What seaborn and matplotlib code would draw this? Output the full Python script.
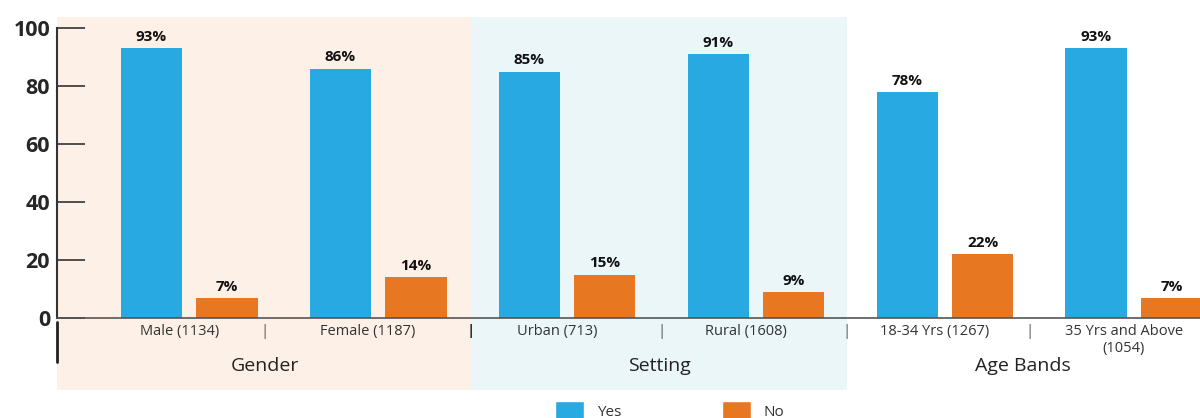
import pandas as pd
import matplotlib
matplotlib.use("Agg")
import matplotlib.pyplot as plt
import matplotlib.transforms as mtransforms
from matplotlib.patches import Rectangle, Patch
import seaborn as sns

categories = ["Male (1134)", "Female (1187)", "Urban (713)", "Rural (1608)",
              "18-34 Yrs (1267)", "35 Yrs and Above\n(1054)"]
yes_vals = [93, 86, 85, 91, 78, 93]
no_vals = [7, 14, 15, 9, 22, 7]
groups = ["Gender", "Setting", "Age Bands"]

colors = ["#29A9E1", "#E87722"]

df = pd.DataFrame({
    "category": categories * 2,
    "value": yes_vals + no_vals,
    "answer": ["Yes"] * len(categories) + ["No"] * len(categories),
})

sns.set_theme(style="white")
plt.rcParams["font.family"] = ["Open Sans", "DejaVu Sans"]

fig = plt.figure(figsize=(12, 4.18), dpi=100)
ax = fig.add_axes([57 / 1200, 1 - 318 / 418, 1 - 57 / 1200, 290 / 418])
ax.set_facecolor("none")

sns.barplot(data=df, x="category", y="value", hue="answer", order=categories,
            hue_order=["Yes", "No"], palette=colors, width=0.8, gap=0.19,
            saturation=1, linewidth=0, ax=ax, legend=False)

for cont in ax.containers:
    ax.bar_label(cont, fmt="%d%%", padding=3, fontsize=11, fontweight="bold",
                 color="#111111")

ax.set_xlim(-0.70, 5.35)
ax.set_ylim(0, 100)
ax.set_yticks([0, 20, 40, 60, 80, 100])
ax.tick_params(axis="y", left=True, direction="in", length=20, width=1.2,
               color="#333333", pad=5, labelsize=15.5)
for t in ax.get_yticklabels():
    t.set_fontweight("bold")
ax.tick_params(axis="x", length=0, pad=4, labelsize=10.5, labelcolor="#333333")
shift = mtransforms.ScaledTranslation(-10 / 100, 0, fig.dpi_scale_trans)
for t in ax.get_xticklabels():
    t.set_transform(t.get_transform() + shift)
ax.set_xlabel("")
ax.set_ylabel("")
for s in ["top", "right"]:
    ax.spines[s].set_visible(False)
ax.spines["left"].set_color("#333333")
ax.spines["left"].set_linewidth(1.5)
ax.spines["bottom"].set_color("#555555")
ax.spines["bottom"].set_linewidth(1.2)

# background bands for the groups
trans = mtransforms.blended_transform_factory(ax.transData, ax.transAxes)
ax.add_patch(Rectangle((-0.70, -0.248), 2.19, 1.286, transform=trans,
                       facecolor="#FDF0E7", edgecolor="none", zorder=-5, clip_on=False))
ax.add_patch(Rectangle((1.49, -0.248), 1.99, 1.286, transform=trans,
                       facecolor="#EAF6F8", edgecolor="none", zorder=-5, clip_on=False))

# separators
for xs in [0.4, 2.5, 3.48, 4.45]:
    ax.text(xs, -0.02, "|", transform=trans, ha="center", va="top", fontsize=11,
            color="#555555")
ax.text(1.49, -0.02, "|", transform=trans, ha="center", va="top", fontsize=11,
        color="#333333", fontweight="bold")
ax.plot([0, 0], [-0.014, -0.152], transform=ax.transAxes, color="#222222",
        lw=2, clip_on=False)

for xs, g in zip([0.40, 2.49, 4.41], groups):
    ax.text(xs, -0.166, g, transform=trans, ha="center", va="center",
            fontsize=14, color="#222222")

handles = [Patch(facecolor=colors[0], label="Yes"), Patch(facecolor=colors[1], label="No")]
fig.legend(handles=handles, loc="upper center", bbox_to_anchor=(0.558, 0.058),
           ncol=2, frameon=False, fontsize=11, handlelength=1.9, handleheight=1.6,
           columnspacing=6.6, handletextpad=0.8, borderpad=0, labelcolor="#333333")

fig.savefig("out.png", dpi=100)
